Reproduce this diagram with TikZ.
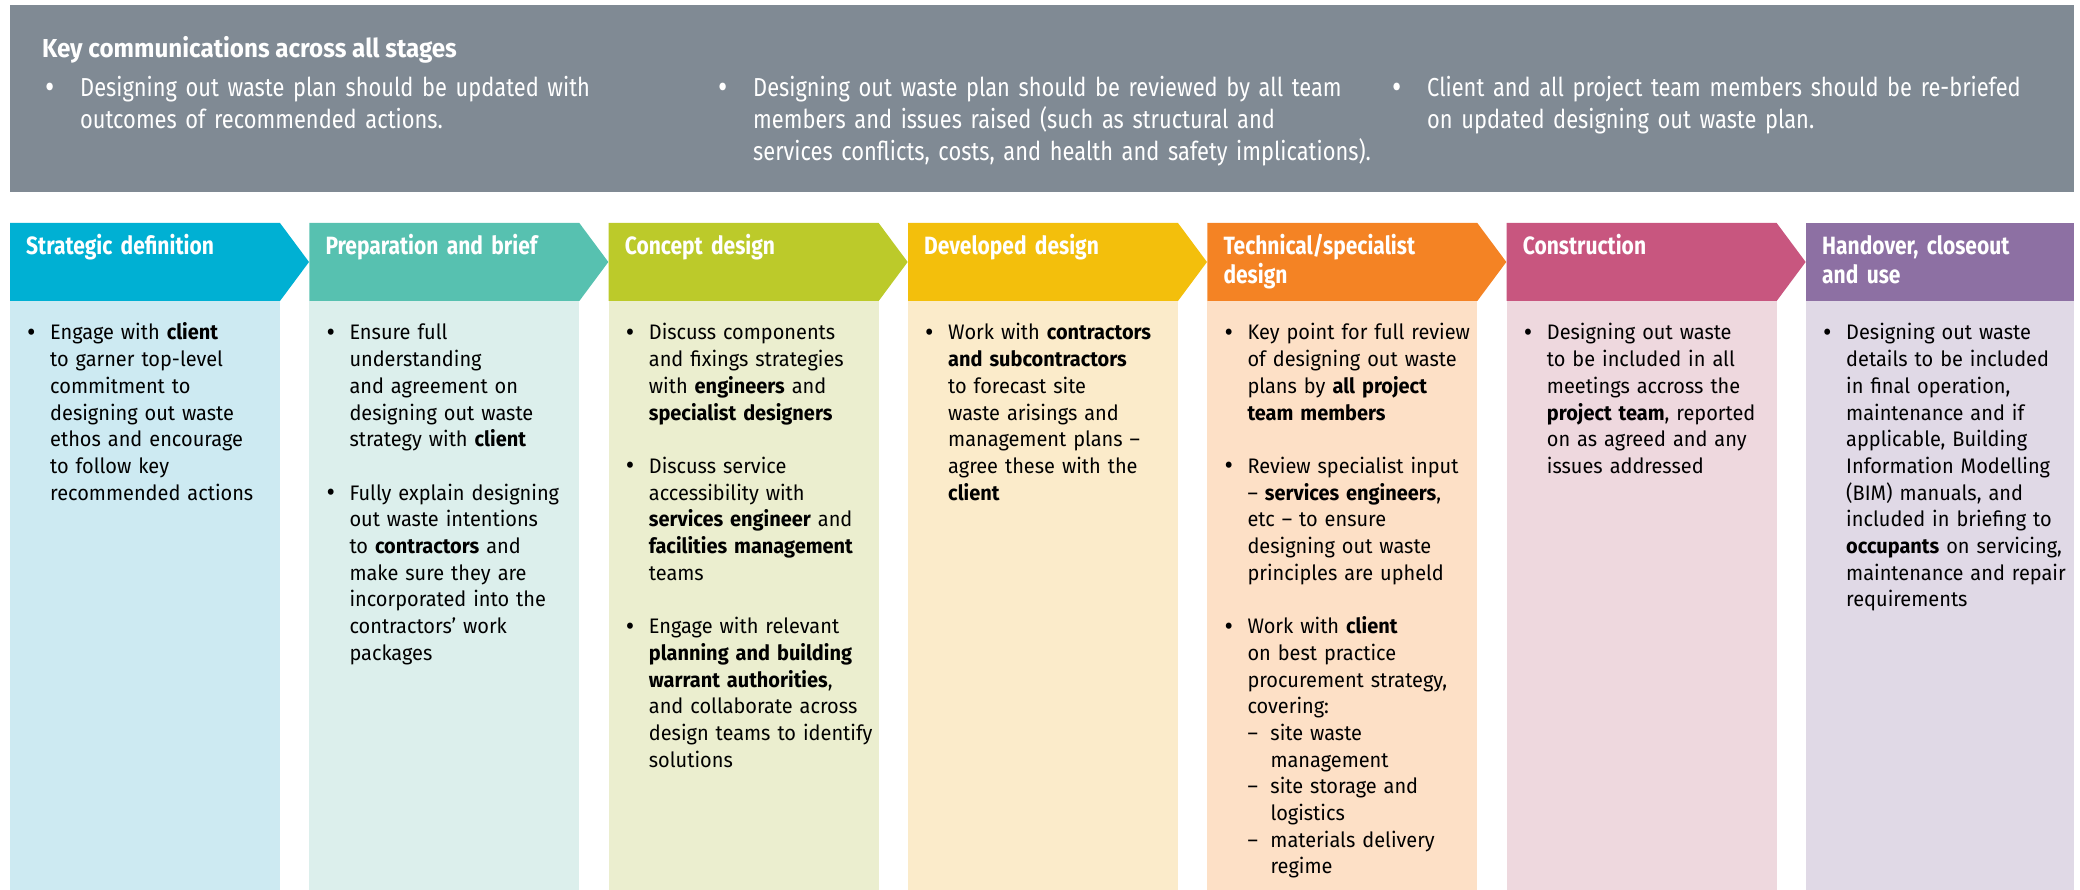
\documentclass[tikz,border=0pt]{standalone}
\usepackage{fontspec}
\setmainfont{Fira Sans}[FakeStretch=0.95]
\newfontfamily\hdfont{Fira Sans}[FakeStretch=0.84]
\newfontfamily\btfont{Fira Sans}[FakeStretch=0.93]
\newfontfamily\bnfont{Fira Sans}[FakeStretch=0.84]
\definecolor{bannergrey}{HTML}{808A94}
\definecolor{hA}{HTML}{00B0D3}\definecolor{bA}{HTML}{CDEAF2}
\definecolor{hB}{HTML}{57C1B0}\definecolor{bB}{HTML}{DCEFEC}
\definecolor{hC}{HTML}{BCCA2A}\definecolor{bC}{HTML}{EBEECF}
\definecolor{hD}{HTML}{F3BF0C}\definecolor{bD}{HTML}{FBEBCA}
\definecolor{hE}{HTML}{F48324}\definecolor{bE}{HTML}{FDE0C6}
\definecolor{hF}{HTML}{C8567F}\definecolor{bF}{HTML}{EED8DE}
\definecolor{hG}{HTML}{8D70A3}\definecolor{bG}{HTML}{E0D9E6}
\newcommand\bigbul{\raisebox{-1.5pt}{\scalebox{1.3}{\textbullet}}}
\newcommand\bul[1]{\par\hangindent=23pt\hangafter=1\noindent\makebox[23pt][l]{\bigbul}#1\par}
\newcommand\subi[1]{\par\hangindent=46pt\hangafter=1\noindent\hspace*{23pt}\makebox[23pt][l]{–}#1\par}
\newcommand\bgap{\vskip 26.7pt}
\tikzset{
  bodytext/.style={anchor=base west, inner sep=0pt, text width=290pt,
    font=\fontsize{21}{26.7}\selectfont, execute at begin node={\raggedright\parskip=0pt}},
  headtext/.style={anchor=base west, inner sep=0pt, text width=250pt, align=left,
    text=white, font=\hdfont\bfseries\fontsize{25}{28.5}\selectfont},
  bantitle/.style={anchor=base west, inner sep=0pt, text=white,
    font=\btfont\bfseries\fontsize{26}{30}\selectfont},
  bantext/.style={anchor=base west, inner sep=0pt, text=white, text width=640pt, align=left,
    font=\bnfont\fontsize{26}{31.8}\selectfont},
  banbullet/.style={anchor=base, inner sep=0pt, text=white, font=\bnfont\fontsize{26}{31.8}\selectfont},
}
\begin{document}
\begin{tikzpicture}[x=1pt,y=-1pt]
\useasboundingbox (0,0) rectangle (2080,890);
% banner
\fill[bannergrey] (10,5) rectangle (2074,192);
\node[bantitle] (kt) at (42,58) {Key communications across all stages};
\node[banbullet] (kb1) at (50,97) {\bigbul};
\node[bantext] (k1) at (80,97) {Designing out waste plan should be updated with\\outcomes of recommended actions.};
\node[banbullet] (kb2) at (723,97) {\bigbul};
\node[bantext] (k2) at (753,97) {Designing out waste plan should be reviewed by all team\\members and issues raised (such as structural and\\services conflicts, costs, and health and safety implications).};
\node[banbullet] (kb3) at (1397,97) {\bigbul};
\node[bantext] (k3) at (1427,97) {Client and all project team members should be re-briefed\\on updated designing out waste plan.};
% columns
\foreach \i/\hc/\bc in {0/hA/bA,1/hB/bB,2/hC/bC,3/hD/bD,4/hE/bE,5/hF/bF}{
  \pgfmathsetmacro\L{10+299.33*\i}
  \pgfmathsetmacro\R{\L+270}
  \fill[\bc] (\L,301) rectangle (\R,890);
  \fill[\hc] (\L,223) -- (\R,223) -- (\R+29,262) -- (\R,301) -- (\L,301) -- cycle;
}
\fill[bG] (1806,301) rectangle (2074,890);
\fill[hG] (1806,223) rectangle (2074,301);
% headers
\node[headtext] (h1) at (26,255) {Strategic definition};
\node[headtext] (h2) at (325.3,255) {Preparation and brief};
\node[headtext] (h3) at (624.7,255) {Concept design};
\node[headtext] (h4) at (924,255) {Developed design};
\node[headtext] (h5) at (1223.3,255) {Technical/specialist\\design};
\node[headtext] (h6) at (1522.7,255) {Construction};
\node[headtext] (h7) at (1822,255) {Handover, closeout\\and use};
% bodies
\node[bodytext] (t1) at (27,313.3) {%
\bul{Engage with \textbf{client}\newline to garner top-level\newline commitment to\newline designing out waste\newline ethos and encourage\newline to follow key\newline recommended actions}};
\node[bodytext] (t2) at (326.3,313.3) {%
\bul{Ensure full\newline understanding\newline and agreement on\newline designing out waste\newline strategy with \textbf{client}}\bgap
\bul{Fully explain designing\newline out waste intentions\newline to \textbf{contractors} and\newline make sure they are\newline incorporated into the\newline contractors' work\newline packages}};
\node[bodytext] (t3) at (625.7,313.3) {%
\bul{Discuss components\newline and fixings strategies\newline with \textbf{engineers} and\newline \textbf{specialist designers}}\bgap
\bul{Discuss service\newline accessibility with\newline \textbf{services engineer} and\newline \textbf{facilities management}\newline teams}\bgap
\bul{Engage with relevant\newline \textbf{planning and building}\newline \textbf{warrant authorities},\newline and collaborate across\newline design teams to identify\newline solutions}};
\node[bodytext] (t4) at (925,313.3) {%
\bul{Work with \textbf{contractors}\newline \textbf{and subcontractors}\newline to forecast site\newline waste arisings and\newline management plans –\newline agree these with the\newline \textbf{client}}};
\node[bodytext] (t5) at (1224.3,313.3) {%
\bul{Key point for full review\newline of designing out waste\newline plans by \textbf{all project}\newline \textbf{team members}}\bgap
\bul{Review specialist input\newline – \textbf{services engineers},\newline etc – to ensure\newline designing out waste\newline principles are upheld}\bgap
\bul{Work with \textbf{client}\newline on best practice\newline procurement strategy,\newline covering:}
\subi{site waste\newline management}
\subi{site storage and\newline logistics}
\subi{materials delivery\newline regime}};
\node[bodytext] (t6) at (1523.7,313.3) {%
\bul{Designing out waste\newline to be included in all\newline meetings accross the\newline \textbf{project team}, reported\newline on as agreed and any\newline issues addressed}};
\node[bodytext] (t7) at (1823,313.3) {%
\bul{Designing out waste\newline details to be included\newline in final operation,\newline maintenance and if\newline applicable, Building\newline Information Modelling\newline (BIM) manuals, and\newline included in briefing to\newline \textbf{occupants} on servicing,\newline maintenance and repair\newline requirements}};
\end{tikzpicture}
\end{document}
